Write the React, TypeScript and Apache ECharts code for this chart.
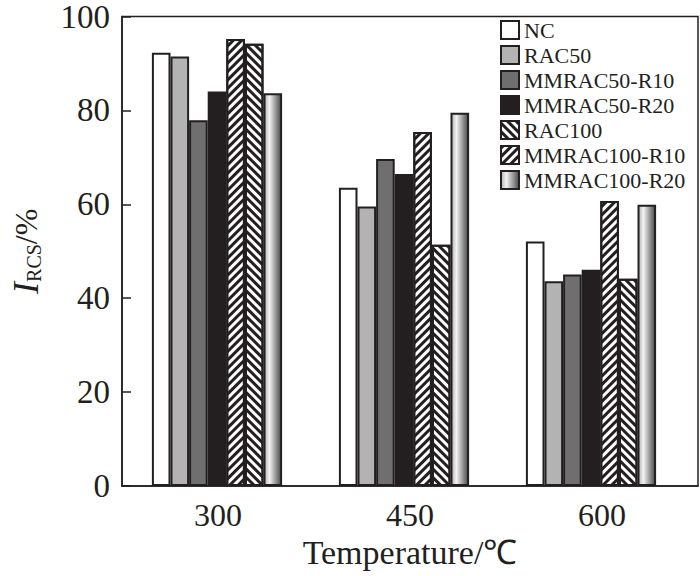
import React, { useEffect, useRef } from "react";
import * as echarts from "echarts";

const categories = ["300", "450", "600"];
const seriesNames = ["NC", "RAC50", "MMRAC50-R10", "MMRAC50-R20", "MMRAC100-R10", "RAC100", "MMRAC100-R20"];
const legendOrder = ["NC", "RAC50", "MMRAC50-R10", "MMRAC50-R20", "RAC100", "MMRAC100-R10", "MMRAC100-R20"];
const ncValues = [91.8, 63.2, 51.8];
const rac50Values = [91.0, 59.2, 43.4];
const mm50r10Values = [77.5, 69.3, 44.8];
const mm50r20Values = [83.6, 66.1, 45.8];
const mm100r10Values = [94.7, 75.0, 60.4];
const rac100Values = [93.7, 51.1, 43.9];
const mm100r20Values = [83.2, 79.1, 59.6];
const yTicks = { min: 0, max: 100, interval: 20 };

const INK = "#231f20";
const FONT = "Liberation Serif";

export default function App() {
  const ref = useRef<HTMLDivElement>(null);
  useEffect(() => {
    document.body.style.margin = "0";
    if (!ref.current) return;
    const chart = echarts.init(ref.current, undefined, { renderer: "svg" });
    const hatch = (rot: number) => ({
      symbol: "rect",
      symbolSize: 1,
      color: INK,
      backgroundColor: "#ffffff",
      dashArrayX: [1, 0],
      dashArrayY: [2.2, 3],
      rotation: rot,
    });
    const grad = new echarts.graphic.LinearGradient(0, 0, 1, 0, [
      { offset: 0, color: "#b4b4b4" },
      { offset: 0.3, color: "#f2f2f2" },
      { offset: 1, color: "#4a4a4a" },
    ]);
    const styles: any[] = [
      { color: "#ffffff" },
      { color: "#b3b3b3" },
      { color: "#6f6f6f" },
      { color: INK },
      { color: "#ffffff", decal: hatch(-Math.PI / 4) },
      { color: "#ffffff", decal: hatch(Math.PI / 4) },
      { color: grad },
    ];
    const values = [ncValues, rac50Values, mm50r10Values, mm50r20Values, mm100r10Values, rac100Values, mm100r20Values];
    const series = seriesNames.map((name, i) => ({
      name,
      type: "bar",
      xAxisIndex: 1,
      yAxisIndex: 1,
      data: values[i],
      barWidth: 18.6,
      barGap: "0%",
      itemStyle: { ...styles[i], borderColor: INK, borderWidth: 2 },
    }));
    chart.setOption({
      animation: false,
      backgroundColor: "#ffffff",
      grid: [
        { left: 108, right: 2, top: 14, bottom: 90, show: true, borderColor: INK, borderWidth: 1.5, backgroundColor: "transparent" },
        { left: 123.5, width: 561, top: 14, bottom: 90 },
      ],
      legend: {
        data: legendOrder,
        orient: "vertical",
        left: 495,
        top: 14,
        itemWidth: 18,
        itemHeight: 18,
        itemGap: 3,
        icon: "rect",
        textStyle: { fontFamily: FONT, fontSize: 22, lineHeight: 21, color: INK, padding: [0, 0, 0, 0] },
      },
      xAxis: [
        {
          type: "category",
          gridIndex: 0,
          data: categories,
          axisLine: { lineStyle: { color: INK, width: 1.5 } },
          axisTick: { show: false },
          axisLabel: { fontFamily: FONT, fontSize: 32, color: INK, margin: 13 },
          name: "Temperature/\u2103",
          nameLocation: "middle",
          nameGap: 48,
          nameTextStyle: { fontFamily: FONT, fontSize: 34, color: INK },
        },
        { type: "category", gridIndex: 1, data: categories, show: false },
      ],
      yAxis: [
        {
          type: "value",
          gridIndex: 0,
          min: yTicks.min,
          max: yTicks.max,
          interval: yTicks.interval,
          axisLine: { show: true, lineStyle: { color: INK, width: 1.5 } },
          axisTick: { show: true, inside: true, length: 9, lineStyle: { color: INK, width: 1.5 } },
          splitLine: { show: false },
          axisLabel: { fontFamily: FONT, fontSize: 33, color: INK, margin: 12 },
          name: "{i|I}{s|RCS}{n|/%}",
          nameLocation: "middle",
          nameGap: 78,
          nameTextStyle: {
            fontFamily: FONT,
            color: INK,
            rich: {
              i: { fontFamily: FONT, fontSize: 36, fontStyle: "italic", color: INK },
              s: { fontFamily: FONT, fontSize: 20, color: INK, verticalAlign: "bottom", padding: [12, 0, 0, 0] },
              n: { fontFamily: FONT, fontSize: 32, color: INK },
            },
          },
        },
        { type: "value", gridIndex: 1, min: yTicks.min, max: yTicks.max, show: false },
      ],
      series,
    });
    return () => chart.dispose();
  }, []);
  return <div ref={ref} style={{ width: 700, height: 576 }} />;
}
